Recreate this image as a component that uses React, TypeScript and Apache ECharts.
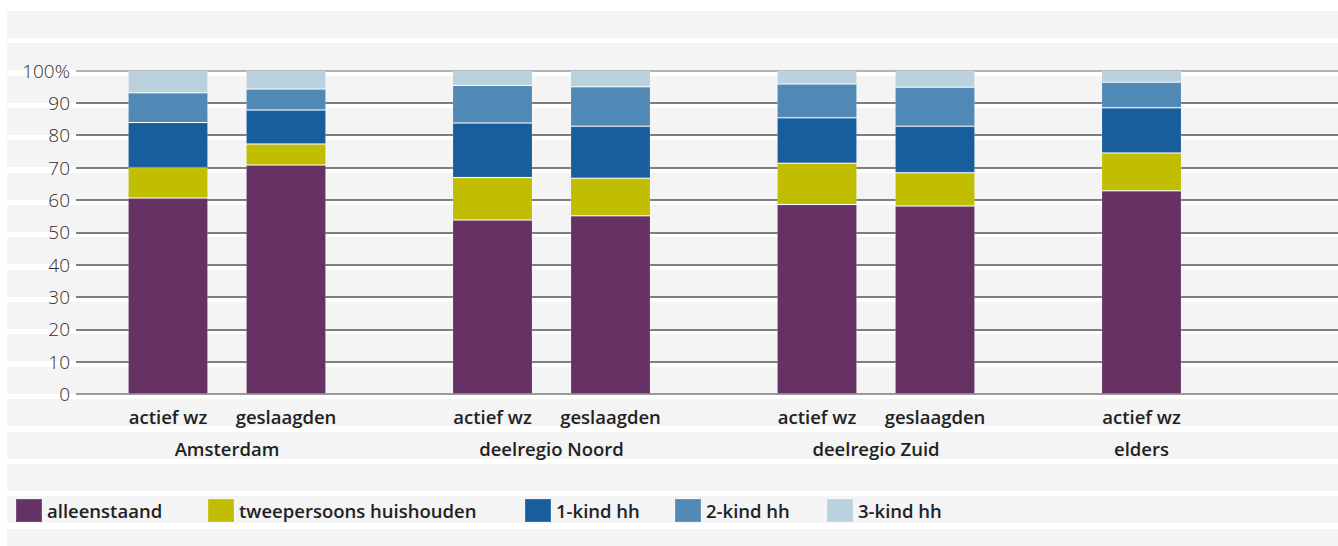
import React, { useEffect, useRef } from "react";
import * as echarts from "echarts";

const categories = ["actief wz", "geslaagden", "actief wz", "geslaagden", "actief wz", "geslaagden", "actief wz"];
const slotIndex = [3, 7, 14, 18, 25, 29, 36];
const slotCount = 43;
const groups = ["Amsterdam", "deelregio Noord", "deelregio Zuid", "elders"];
const groupSlot = [5, 16, 27, 36];

const seriesNames = ["alleenstaand", "tweepersoons huishouden", "1-kind hh", "2-kind hh", "3-kind hh"];
const alleenstaand = [60.6, 70.8, 53.8, 55.1, 58.6, 58.1, 62.8];
const tweepersoons = [9.4, 6.5, 13.1, 11.6, 12.7, 10.3, 11.7];
const kind1 = [13.9, 10.5, 16.9, 16.1, 14.1, 14.4, 14.0];
const kind2 = [9.2, 6.5, 11.6, 12.2, 10.4, 12.0, 7.9];
const kind3 = [6.9, 5.7, 4.6, 5.0, 4.2, 5.2, 3.6];
const seriesValues = [alleenstaand, tweepersoons, kind1, kind2, kind3];
const colors = ["#653263", "#c1bd00", "#185d9c", "#5088b6", "#b9d2de"];
const yTicks = [0, 10, 20, 30, 40, 50, 60, 70, 80, 90, 100];

const legendLefts = [15, 207, 524, 674, 826];

export default function App() {
  const ref = useRef<HTMLDivElement>(null);
  useEffect(() => {
    if (!ref.current) return;
    const chart = echarts.init(ref.current, null, { renderer: "svg" });
    const font = "'Open Sans', 'Noto Sans', sans-serif";
    const slots = Array.from({ length: slotCount }, (_, k) => String(k));
    const barLabel = (k: number) => {
      const i = slotIndex.indexOf(k);
      return i >= 0 ? categories[i] : "";
    };
    const groupLabel = (k: number) => {
      const i = groupSlot.indexOf(k);
      return i >= 0 ? groups[i] : "";
    };
    const gridLineColors = yTicks.map((t) => (t === 100 ? "#9a9a9a" : t === 0 ? "#7a7a7a" : "#555555"));
    const boldText = { fontFamily: font, fontSize: 18.5, fontWeight: 600, color: "#222" };
    chart.setOption({
      animation: false,
      backgroundColor: "transparent",
      grid: [
        { left: 76, right: 0, top: 70.5, bottom: 152, containLabel: false },
        { left: 64.75, right: 4.75, top: 70.5, bottom: 152, containLabel: false },
      ],
      legend: seriesNames.map((n, i) => ({
        data: [{ name: n, icon: "rect" }],
        left: legendLefts[i],
        top: 498,
        padding: 0,
        itemWidth: 26,
        itemHeight: 23,
        itemGap: 0,
        selectedMode: false,
        textStyle: { ...boldText, padding: [8, 0, 0, 0] },
      })),
      xAxis: [
        { type: "value", gridIndex: 0, min: 0, max: 1, show: false },
        {
          type: "category",
          gridIndex: 1,
          data: slots,
          axisLine: { show: false },
          axisTick: { show: false },
          splitLine: { show: false },
          axisLabel: {
            interval: 0,
            formatter: (_v: string, k: number) => barLabel(k),
            margin: 13,
            ...boldText,
          },
        },
        {
          type: "category",
          gridIndex: 1,
          data: slots,
          position: "bottom",
          offset: 32,
          axisLine: { show: false },
          axisTick: { show: false },
          splitLine: { show: false },
          axisLabel: {
            interval: 0,
            formatter: (_v: string, k: number) => groupLabel(k),
            margin: 13,
            ...boldText,
          },
        },
      ],
      yAxis: [
        {
          type: "value",
          gridIndex: 0,
          min: 0,
          max: 100,
          interval: 10,
          axisLine: { show: false },
          axisTick: { show: false },
          axisLabel: {
            formatter: (v: number) => (v === 100 ? "100%" : String(v)),
            margin: 6,
            fontFamily: font,
            fontSize: 19,
            fontWeight: 300,
            color: "#2e2e2e",
          },
          splitLine: { show: true, lineStyle: { color: gridLineColors, width: 1.5 } },
        },
        { type: "value", gridIndex: 1, min: 0, max: 100, show: false },
      ],
      series: seriesNames.map((n, i) => {
        const data: (number | null)[] = slots.map(() => null);
        seriesValues[i].forEach((v, j) => {
          data[slotIndex[j]] = v;
        });
        return {
          name: n,
          type: "bar",
          stack: "total",
          xAxisIndex: 1,
          yAxisIndex: 1,
          barWidth: 80,
          itemStyle: { color: colors[i], borderColor: "rgba(255,255,255,0.15)", borderWidth: 1 },
          data,
        };
      }),
    });
    return () => chart.dispose();
  }, []);
  return (
    <div style={{ position: "fixed", left: 0, top: 0, width: 1338, height: 546, background: "#fff" }}>
      <div
        style={{
          position: "absolute",
          left: 7,
          top: 11,
          right: 0,
          bottom: 0,
          background: "repeating-linear-gradient(to bottom, #f4f4f4 0px, #f4f4f4 27px, #ffffff 27px, #ffffff 32.35px)",
        }}
      />
      <div ref={ref} style={{ position: "absolute", left: 0, top: 0, width: 1338, height: 546 }} />
    </div>
  );
}
